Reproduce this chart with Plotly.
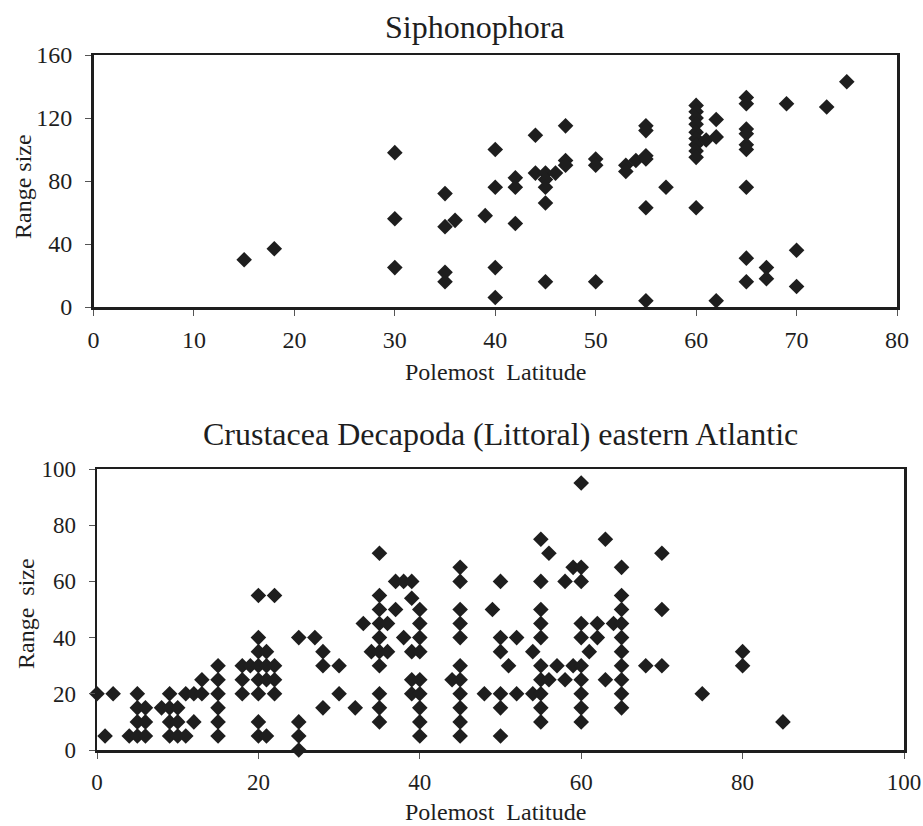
import plotly.graph_objects as go

# ---------------- Data: Siphonophora ----------------
siph_lat = [15, 18,
            30, 30, 30,
            35, 35, 36, 35, 35,
            39,
            40, 40, 40, 40,
            42, 42, 42,
            44, 44,
            45, 45, 45, 45, 45,
            46,
            47, 47, 47,
            50, 50, 50,
            53, 53, 54,
            55, 55, 55, 55, 55, 55,
            57,
            60, 60, 60, 60, 60, 60, 60, 60, 60, 60,
            61, 62, 62, 62,
            65, 65, 65, 65, 65, 65, 65, 65, 65,
            67, 67,
            69, 70, 70,
            73, 75]
siph_range = [30, 37,
              98, 56, 25,
              72, 51, 55, 22, 16,
              58,
              100, 76, 25, 6,
              82, 76, 53,
              109, 85,
              85, 81, 76, 66, 16,
              85,
              115, 93, 90,
              94, 90, 16,
              90, 86, 93,
              115, 112, 96, 94, 63, 4,
              76,
              128, 124, 120, 116, 111, 107, 103, 99, 95, 63,
              106, 119, 108, 4,
              133, 129, 113, 110, 103, 100, 76, 31, 16,
              25, 18,
              129, 36, 13,
              127, 143]

# ---------------- Data: Crustacea Decapoda ----------------
crus_by_lat = {
    0: [20], 1: [5], 2: [20], 4: [5],
    5: [20, 15, 10, 5], 6: [15, 10, 5], 8: [15],
    9: [20, 15, 10, 5], 10: [15, 10, 5], 11: [20, 5],
    12: [10, 20], 13: [20, 25],
    15: [30, 25, 20, 15, 10, 5], 18: [30, 25, 20], 19: [30],
    20: [55, 40, 35, 30, 25, 20, 10, 5], 21: [35, 30, 25, 5],
    22: [55, 30, 25, 20], 25: [40, 10, 5, 0], 27: [40],
    28: [35, 30, 15], 30: [30, 20], 32: [15], 33: [45], 34: [35],
    35: [70, 55, 50, 45, 40, 35, 30, 20, 15, 10], 36: [45, 35],
    37: [60, 50], 38: [60, 40], 39: [60, 54, 35, 25, 20],
    40: [50, 45, 40, 35, 25, 20, 15, 10, 5], 44: [25],
    45: [65, 60, 50, 45, 40, 30, 25, 20, 15, 10, 5],
    48: [20], 49: [50], 50: [60, 40, 35, 20, 15, 5], 51: [30],
    52: [40, 20], 54: [35, 20],
    55: [75, 60, 50, 45, 40, 30, 25, 20, 15, 10], 56: [70, 25],
    57: [30], 58: [60, 25], 59: [65, 30],
    60: [95, 65, 60, 45, 40, 30, 25, 20, 15, 10], 61: [35],
    62: [45, 40], 63: [75, 25], 64: [45],
    65: [65, 55, 50, 45, 40, 35, 30, 25, 20, 15],
    68: [30], 70: [70, 50, 30], 75: [20], 80: [35, 30], 85: [10],
}
crus_lat = [lat for lat, vals in crus_by_lat.items() for _ in vals]
crus_range = [v for vals in crus_by_lat.values() for v in vals]

top_xticks = [0, 10, 20, 30, 40, 50, 60, 70, 80]
top_yticks = [0, 40, 80, 120, 160]
bot_xticks = [0, 20, 40, 60, 80, 100]
bot_yticks = [0, 20, 40, 60, 80, 100]

# ---------------- Figure ----------------
W, H = 923, 826
FONT = "Liberation Serif, Times New Roman, serif"
INK = "#1e1e1e"

def px_x(p):
    return p / W

def px_y(p):
    return 1 - p / H

marker = dict(symbol="diamond", size=12, color=INK, line=dict(width=0))

fig = go.Figure()
fig.add_trace(go.Scatter(x=siph_lat, y=siph_range, mode="markers", marker=marker,
                         xaxis="x", yaxis="y", cliponaxis=False, showlegend=False))
fig.add_trace(go.Scatter(x=crus_lat, y=crus_range, mode="markers", marker=marker,
                         xaxis="x2", yaxis="y2", cliponaxis=False, showlegend=False))

axis_common = dict(showline=True, linewidth=2.5, linecolor=INK, mirror=True,
                   showgrid=False, zeroline=False, ticks="outside", ticklen=6,
                   tickwidth=1, tickcolor="#555", fixedrange=True, automargin=False)

fig.update_layout(
    template="none",
    width=W, height=H,
    margin=dict(l=0, r=0, t=0, b=0, pad=0),
    paper_bgcolor="white", plot_bgcolor="white",
    font=dict(family=FONT, color=INK),
    xaxis=dict(domain=[px_x(93.5), px_x(897)], range=[0, 80], tickvals=top_xticks,
               anchor="y", tickfont=dict(size=24, family=FONT, color=INK), ticklabelstandoff=4,
               **axis_common),
    yaxis=dict(domain=[px_y(307), px_y(55)], range=[0, 160], tickvals=top_yticks,
               anchor="x", tickfont=dict(size=24, family=FONT, color=INK), ticklabelstandoff=8,
               **axis_common),
    xaxis2=dict(domain=[px_x(97), px_x(904)], range=[0, 100], tickvals=bot_xticks,
                anchor="y2", tickfont=dict(size=23, family=FONT, color=INK), ticklabelstandoff=4,
                **axis_common),
    yaxis2=dict(domain=[px_y(750), px_y(469)], range=[0, 100], tickvals=bot_yticks,
                anchor="x2", tickfont=dict(size=23, family=FONT, color=INK), ticklabelstandoff=8,
                **axis_common),
)

ann = [
    dict(text="Siphonophora", x=px_x(475), y=px_y(27), size=32, angle=0),
    dict(text="Crustacea Decapoda (Littoral) eastern Atlantic", x=px_x(500), y=px_y(434), size=32, angle=0),
    dict(text="Range size", x=px_x(23), y=px_y(187), size=24, angle=-90),
    dict(text="Polemost\u00a0 Latitude", x=px_x(496), y=px_y(372), size=24, angle=0),
    dict(text="Range\u00a0 size", x=px_x(26), y=px_y(614), size=24, angle=-90),
    dict(text="Polemost\u00a0 Latitude", x=px_x(496), y=px_y(812), size=24, angle=0),
]
for a in ann:
    fig.add_annotation(text=a["text"], x=a["x"], y=a["y"], xref="paper", yref="paper",
                       xanchor="center", yanchor="middle", showarrow=False,
                       textangle=a["angle"], font=dict(size=a["size"], family=FONT, color=INK))

# remove the default 8px page margin so the 923x826 figure fills the window exactly
fig.write_html("out.html",
               config={"displayModeBar": False, "staticPlot": True},
               post_script="document.body.style.margin='0';document.body.style.overflow='hidden';")
